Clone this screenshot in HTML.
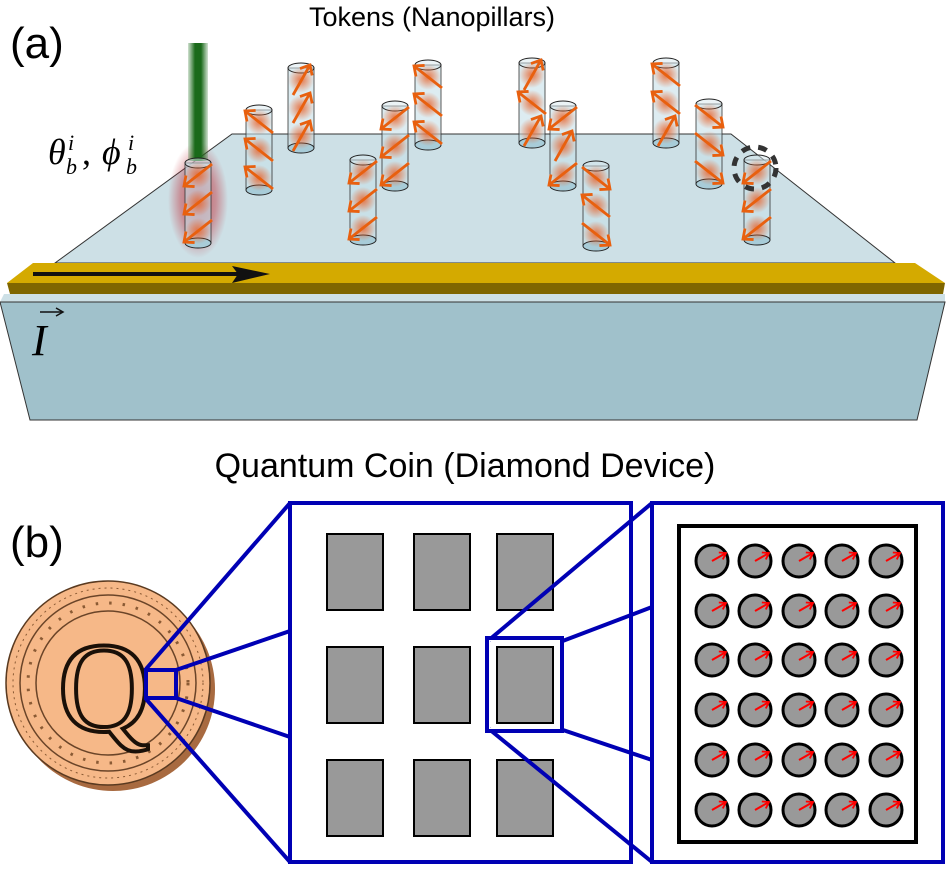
<!DOCTYPE html>
<html><head><meta charset="utf-8"><style>
html,body{margin:0;padding:0;background:#fff;width:947px;height:872px;overflow:hidden}
svg{display:block}
</style></head><body>
<svg width="947" height="872" viewBox="0 0 947 872" xmlns="http://www.w3.org/2000/svg">
<defs>
<linearGradient id="beam" x1="0" x2="1" y1="0" y2="0">
<stop offset="0" stop-color="#1a6a1a" stop-opacity="0.2"/><stop offset="0.35" stop-color="#1a6a1a"/><stop offset="0.65" stop-color="#1a6a1a"/><stop offset="1" stop-color="#1a6a1a" stop-opacity="0.2"/></linearGradient>
<radialGradient id="glow"><stop offset="0" stop-color="#c0303a" stop-opacity="0.75"/><stop offset="0.6" stop-color="#c0303a" stop-opacity="0.45"/><stop offset="1" stop-color="#c0303a" stop-opacity="0"/></radialGradient>
<radialGradient id="blob"><stop offset="0" stop-color="#e8622a" stop-opacity="0.85"/><stop offset="1" stop-color="#e8622a" stop-opacity="0"/></radialGradient>
<marker id="ah" markerUnits="userSpaceOnUse" markerWidth="16" markerHeight="16" refX="10" refY="8" orient="auto"><path d="M2,1 L10,8 L2,15" fill="none" stroke="#e8600f" stroke-width="2.8"/></marker>
<marker id="rh" markerUnits="userSpaceOnUse" markerWidth="10" markerHeight="10" refX="7" refY="5" orient="auto"><path d="M1,1 L7,5 L1,9" fill="none" stroke="#ff0000" stroke-width="1.8"/></marker>
<g id="pil"><rect x="-13" y="0" width="26" height="80" fill="#c6dfe8" fill-opacity="0.6" stroke="#333" stroke-width="0.8"/><ellipse cx="0" cy="80" rx="13" ry="5" fill="#a8ccd8" stroke="#222" stroke-width="1"/><ellipse cx="0" cy="0" rx="13" ry="5" fill="#d8e8ee" fill-opacity="0.5" stroke="#222" stroke-width="1"/><circle cx="0" cy="12" r="13" fill="url(#blob)"/><circle cx="0" cy="40" r="13" fill="url(#blob)"/><circle cx="0" cy="68" r="13" fill="url(#blob)"/></g>
<g id="dl"><line x1="14" y1="-11" x2="-14" y2="11" stroke="#e8600f" stroke-width="2.8" marker-end="url(#ah)"/></g>
<g id="ul"><line x1="14" y1="11" x2="-14" y2="-11" stroke="#e8600f" stroke-width="2.8" marker-end="url(#ah)"/></g>
<g id="ur"><line x1="-8" y1="15" x2="9" y2="-15" stroke="#e8600f" stroke-width="2.8" marker-end="url(#ah)"/></g>
<g id="dr"><line x1="-14" y1="-11" x2="14" y2="11" stroke="#e8600f" stroke-width="2.8" marker-end="url(#ah)"/></g>
<g id="dot"><circle r="16" fill="#999" stroke="#000" stroke-width="3"/><line x1="0" y1="0" x2="14" y2="-8" stroke="#ff0000" stroke-width="2" marker-end="url(#rh)"/></g>
</defs>

<!-- texts a -->
<text x="10" y="58" font-family="Liberation Sans, sans-serif" font-size="44">(a)</text>
<text x="432" y="26" text-anchor="middle" font-family="Liberation Sans, sans-serif" font-size="27">Tokens (Nanopillars)</text>
<text x="48" y="164" font-family="Liberation Serif, serif" font-style="italic" font-size="36">θ</text>
<text x="68" y="150" font-family="Liberation Serif, serif" font-style="italic" font-size="22">i</text>
<text x="66" y="174" font-family="Liberation Serif, serif" font-style="italic" font-size="22">b</text>
<text x="82" y="164" font-family="Liberation Serif, serif" font-size="36">,</text>
<text x="102" y="164" font-family="Liberation Serif, serif" font-style="italic" font-size="36">ϕ</text>
<text x="128" y="150" font-family="Liberation Serif, serif" font-style="italic" font-size="22">i</text>
<text x="126" y="174" font-family="Liberation Serif, serif" font-style="italic" font-size="22">b</text>

<!-- slab -->
<polygon points="232,134 731,134 895,263 55,263" fill="#cde0e6" stroke="#333" stroke-width="1"/>
<polygon points="4,294 945,294 945,302 0,302" fill="#cde0e6"/>
<polygon points="0,302 945,302 917,420 30,420" fill="#a0c1cb" stroke="#333" stroke-width="1"/>
<polygon points="33,263 915,263 945,283 7,283" fill="#d4aa00"/>
<polygon points="7,283 945,283 943,294 10,294" fill="#7f6600"/>
<line x1="33" y1="274" x2="245" y2="274" stroke="#111" stroke-width="4"/>
<polygon points="232,266 270,274 232,283 238,274" fill="#111"/>
<text x="32" y="355" font-family="Liberation Serif, serif" font-style="italic" font-size="44">I</text>
<line x1="40" y1="312" x2="62" y2="312" stroke="#111" stroke-width="1.5"/><path d="M56,308 L63,312 L56,316" fill="none" stroke="#111" stroke-width="1.5"/>

<!-- laser -->
<ellipse cx="198" cy="200" rx="30" ry="58" fill="url(#glow)"/>
<rect x="188" y="43" width="20" height="118" fill="url(#beam)"/>

<!-- pillars -->
<g transform="translate(198,163)"><use href="#pil"/><use href="#dl" y="12"/><use href="#dl" y="40"/><use href="#dl" y="68"/></g>
<g transform="translate(301,68)"><use href="#pil"/><use href="#ur" y="12"/><use href="#ur" y="40"/><use href="#ur" y="68"/></g>
<g transform="translate(259,110)"><use href="#pil"/><use href="#ul" y="12"/><use href="#ul" y="40"/><use href="#ul" y="68"/></g>
<g transform="translate(428,65)"><use href="#pil"/><use href="#ul" y="12"/><use href="#ul" y="40"/><use href="#ul" y="68"/></g>
<g transform="translate(395,106)"><use href="#pil"/><use href="#dl" y="12"/><use href="#dl" y="40"/><use href="#dl" y="68"/></g>
<g transform="translate(363,160)"><use href="#pil"/><use href="#dl" y="12"/><use href="#dl" y="40"/><use href="#dl" y="68"/></g>
<g transform="translate(532,63)"><use href="#pil"/><use href="#ur" y="12"/><use href="#ul" y="40"/><use href="#ur" y="68"/></g>
<g transform="translate(563,106)"><use href="#pil"/><use href="#dl" y="12"/><use href="#ur" y="40"/><use href="#dl" y="68"/></g>
<g transform="translate(596,166)"><use href="#pil"/><use href="#dr" y="12"/><use href="#ul" y="40"/><use href="#dr" y="68"/></g>
<g transform="translate(666,63)"><use href="#pil"/><use href="#ul" y="12"/><use href="#ul" y="40"/><use href="#ur" y="68"/></g>
<g transform="translate(709,104)"><use href="#pil"/><use href="#dr" y="12"/><use href="#dr" y="40"/><use href="#dr" y="68"/></g>
<g transform="translate(757,160)"><use href="#pil"/><use href="#dl" y="12"/><use href="#dl" y="40"/><use href="#dl" y="68"/></g>
<circle cx="755" cy="168" r="21" fill="none" stroke="#333" stroke-width="5" stroke-dasharray="9,8"/>

<!-- b -->
<text x="465" y="477" text-anchor="middle" font-family="Liberation Sans, sans-serif" font-size="34">Quantum Coin (Diamond Device)</text>
<text x="10" y="557" font-family="Liberation Sans, sans-serif" font-size="44">(b)</text>

<!-- coin -->
<circle cx="113" cy="689" r="102" fill="#a86a40"/>
<circle cx="108" cy="683" r="102" fill="#f6b888" stroke="#5a3a20" stroke-width="1.5"/>
<circle cx="108" cy="683" r="95" fill="none" stroke="#8a5a34" stroke-width="1" stroke-dasharray="2,4"/>
<circle cx="108" cy="683" r="88" fill="none" stroke="#6a4428" stroke-width="1.5"/>
<circle cx="108" cy="683" r="80" fill="none" stroke="#8a5a34" stroke-width="3" stroke-dasharray="2.5,11"/>
<circle cx="108" cy="683" r="72" fill="none" stroke="#6a4428" stroke-width="1.5"/>
<text x="104" y="731" text-anchor="middle" font-family="Liberation Serif, serif" font-size="128" fill="#f6b888" stroke="#1a1008" stroke-width="4">Q</text>

<!-- zoom lines -->
<g stroke="#0000b4" stroke-width="4" fill="none">
<rect x="146" y="670" width="30" height="28"/>
<line x1="146" y1="669" x2="290" y2="503"/>
<line x1="176" y1="670" x2="290" y2="631"/>
<line x1="176" y1="698" x2="290" y2="737"/>
<line x1="146" y1="699" x2="290" y2="862"/>
<rect x="290" y="503" width="341" height="359" fill="#fff"/>
</g>
<g fill="#999" stroke="#000" stroke-width="2">
<rect x="327" y="534" width="56" height="76"/><rect x="414" y="534" width="56" height="76"/><rect x="497" y="534" width="56" height="76"/>
<rect x="327" y="647" width="56" height="76"/><rect x="414" y="647" width="56" height="76"/><rect x="497" y="647" width="56" height="76"/>
<rect x="327" y="760" width="56" height="76"/><rect x="414" y="760" width="56" height="76"/><rect x="497" y="760" width="56" height="76"/>
</g>
<g stroke="#0000b4" stroke-width="4" fill="none">
<line x1="489" y1="640" x2="652" y2="503"/>
<line x1="560" y1="642" x2="652" y2="607"/>
<line x1="560" y1="729" x2="652" y2="760"/>
<line x1="489" y1="729" x2="652" y2="862"/>
<rect x="652" y="503" width="291" height="359" fill="#fff"/>
<rect x="489" y="640" width="71" height="89" stroke="#fff" stroke-width="2"/>
<rect x="487" y="638" width="75" height="93"/>
</g>
<rect x="679" y="526" width="237" height="316" fill="#fff" stroke="#000" stroke-width="4"/>
<g>
<use href="#dot" x="712" y="561"/><use href="#dot" x="755" y="561"/><use href="#dot" x="799" y="561"/><use href="#dot" x="842" y="561"/><use href="#dot" x="886" y="561"/>
<use href="#dot" x="712" y="611"/><use href="#dot" x="755" y="611"/><use href="#dot" x="799" y="611"/><use href="#dot" x="842" y="611"/><use href="#dot" x="886" y="611"/>
<use href="#dot" x="712" y="660"/><use href="#dot" x="755" y="660"/><use href="#dot" x="799" y="660"/><use href="#dot" x="842" y="660"/><use href="#dot" x="886" y="660"/>
<use href="#dot" x="712" y="710"/><use href="#dot" x="755" y="710"/><use href="#dot" x="799" y="710"/><use href="#dot" x="842" y="710"/><use href="#dot" x="886" y="710"/>
<use href="#dot" x="712" y="760"/><use href="#dot" x="755" y="760"/><use href="#dot" x="799" y="760"/><use href="#dot" x="842" y="760"/><use href="#dot" x="886" y="760"/>
<use href="#dot" x="712" y="810"/><use href="#dot" x="755" y="810"/><use href="#dot" x="799" y="810"/><use href="#dot" x="842" y="810"/><use href="#dot" x="886" y="810"/>
</g>
</svg>
</body></html>
